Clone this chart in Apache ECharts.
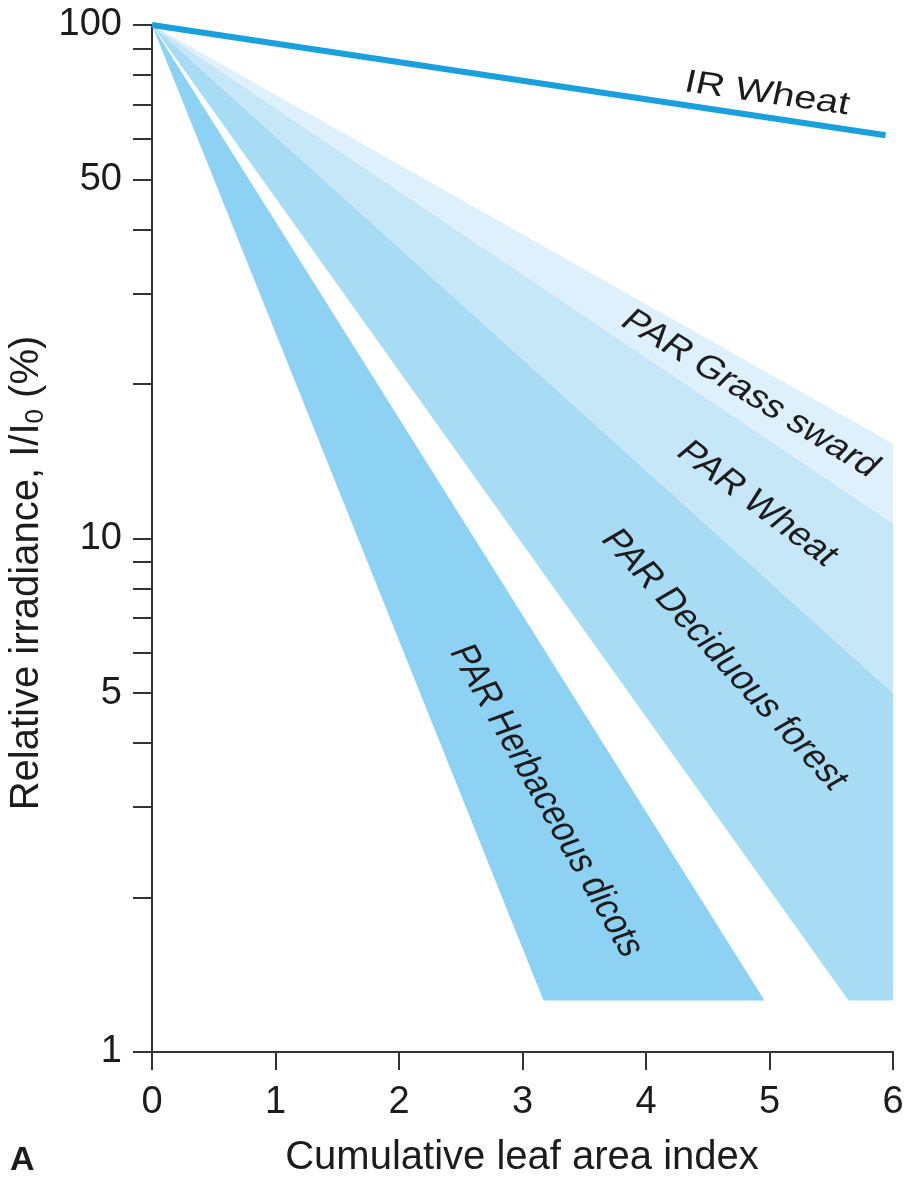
<!DOCTYPE html>
<html>
<head>
<meta charset="utf-8">
<script src="https://cdn.jsdelivr.net/npm/echarts@6/dist/echarts.min.js"></script>
<style>
  html, body { margin: 0; padding: 0; background: #ffffff; }
  #chart { width: 912px; height: 1182px; }
</style>
</head>
<body>
<div id="chart"></div>
<script>
// Light extinction through canopies: relative irradiance (% of I0) against cumulative LAI.
// Each envelope is a polygon of [LAI, % irradiance] vertices, cut off at the bottom of the data range.
const grassSward = [[0, 100], [6, 15.3], [6, 10.7]];
const wheatPar = [[0, 100], [6, 10.7], [6, 5.0]];
const deciduousForest = [[0, 100], [6, 5.0], [6, 1.26], [5.64, 1.26]];
const herbaceousDicots = [[0, 100], [4.96, 1.26], [3.17, 1.26]];
// Infrared transmission through wheat
const irWheat = [[0, 100], [5.94, 61]];

const xTicks = [0, 1, 2, 3, 4, 5, 6];
const yLabelValues = [1, 5, 10, 50, 100];
const yTickValues = [1, 2, 3, 4, 5, 6, 7, 8, 9, 10, 20, 30, 40, 50, 60, 70, 80, 90, 100];

const FONT = "'Liberation Sans', Arial, Helvetica, sans-serif";
const INK = '#1c1c1c';
const AXIS = '#333333';
// band captions are drawn wider than tall, as in the printed figure
const CAPTION_STRETCH = 1.25;

function envelope(name, pts, fill) {
  return {
    type: 'custom',
    name: name,
    coordinateSystem: 'cartesian2d',
    silent: true,
    clip: false,
    z: 2,
    data: pts,
    renderItem: function (params, api) {
      if (params.dataIndex !== 0) return null;
      return {
        type: 'polygon',
        shape: { points: pts.map(function (p) { return api.coord(p); }) },
        style: { fill: fill }
      };
    }
  };
}

// Caption running along a band at the given on-screen angle (degrees, downward slope).
function bandLabel(text, x, y, angleDeg, size) {
  const local = Math.atan(CAPTION_STRETCH * Math.tan(angleDeg * Math.PI / 180));
  return {
    type: 'group',
    x: x, y: y,
    scaleX: CAPTION_STRETCH,
    z: 100,
    zlevel: 1,
    children: [{
      type: 'text',
      z: 100,
      zlevel: 1,
      rotation: -local,
      style: {
        text: text,
        fill: INK,
        font: size + 'px ' + FONT,
        align: 'center',
        verticalAlign: 'middle'
      }
    }]
  };
}

const chart = echarts.init(document.getElementById('chart'), null, { renderer: 'canvas' });

chart.setOption({
  animation: false,
  backgroundColor: '#ffffff',
  grid: { left: 152, right: 19, top: 25, bottom: 130, containLabel: false, outerBoundsMode: 'none' },
  xAxis: {
    type: 'value',
    min: 0, max: 6, interval: 1,
    axisLine: { show: true, onZero: false, lineStyle: { color: AXIS, width: 2 } },
    axisTick: { show: true, inside: false, length: 18, lineStyle: { color: AXIS, width: 2 } },
    axisLabel: {
      customValues: xTicks,
      fontSize: 38, fontFamily: FONT, color: INK, margin: 32
    },
    splitLine: { show: false }
  },
  yAxis: {
    type: 'log',
    logBase: 10,
    min: 1, max: 100,
    axisLine: { show: true, lineStyle: { color: AXIS, width: 2 } },
    axisTick: { show: true, inside: false, length: 19, customValues: yTickValues, lineStyle: { color: AXIS, width: 2 } },
    axisLabel: {
      customValues: yLabelValues,
      fontSize: 38, fontFamily: FONT, color: INK, margin: 30
    },
    minorTick: { show: false },
    splitLine: { show: false }
  },
  series: [
    envelope('PAR Herbaceous dicots', herbaceousDicots, '#8dd2f3'),
    envelope('PAR Deciduous forest', deciduousForest, '#a8dcf5'),
    envelope('PAR Wheat', wheatPar, '#c6e7f8'),
    envelope('PAR Grass sward', grassSward, '#ddf0fb'),
    {
      type: 'line',
      name: 'IR Wheat',
      data: irWheat,
      symbol: 'none',
      silent: true,
      lineStyle: { color: '#1aa0dc', width: 6 },
      z: 5
    }
  ],
  graphic: [
    bandLabel('IR Wheat', 767, 94, 8.1, 32),
    bandLabel('PAR Grass sward', 750, 394, 31.6, 32),
    bandLabel('PAR Wheat', 757, 504, 37, 32),
    bandLabel('PAR Deciduous forest', 724, 660, 47.5, 32),
    bandLabel('PAR Herbaceous dicots', 546, 801, 60.5, 32),
    {
      type: 'text',
      x: 27, y: 573,
      rotation: Math.PI / 2,
      style: {
        text: '{a|Relative irradiance, I/I}{s|0}{a| (%)}',
        fill: INK,
        align: 'center',
        verticalAlign: 'middle',
        rich: {
          a: { fontSize: 40, fontFamily: FONT, fill: INK, lineHeight: 44 },
          s: { fontSize: 26, fontFamily: FONT, fill: INK, verticalAlign: 'bottom', lineHeight: 26 }
        }
      }
    },
    {
      type: 'text',
      x: 522, y: 1158,
      style: {
        text: 'Cumulative leaf area index',
        fill: INK,
        font: '40px ' + FONT,
        align: 'center',
        verticalAlign: 'middle'
      }
    },
    {
      type: 'text',
      x: 10, y: 1161,
      style: {
        text: 'A',
        fill: INK,
        font: 'bold 34px ' + FONT,
        align: 'left',
        verticalAlign: 'middle'
      }
    }
  ]
});
</script>
</body>
</html>
